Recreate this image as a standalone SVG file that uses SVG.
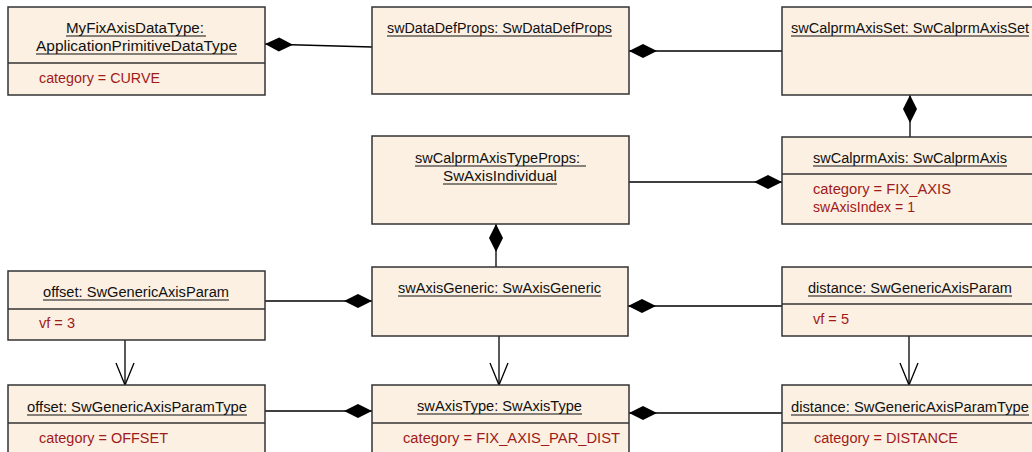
<svg xmlns="http://www.w3.org/2000/svg" width="1032" height="452" viewBox="0 0 1032 452">
<style>
.box{fill:#FBF0E2;stroke:#333;stroke-width:1.5}
.div{stroke:#333;stroke-width:1.5}
.t{font-family:"Liberation Sans",Arial,sans-serif;font-size:14px;fill:#111}
.a{font-family:"Liberation Sans",Arial,sans-serif;font-size:14px;fill:#A01A1A}
.ul{stroke:#111;stroke-width:1}
.c{fill:none;stroke:#000;stroke-width:1.3}
.comp{marker-start:url(#dia)}
.nav{marker-end:url(#open)}
</style>
<defs>
<marker id="dia" markerUnits="userSpaceOnUse" markerWidth="30" markerHeight="16" refX="0" refY="7" orient="auto" viewBox="0 0 30 16" overflow="visible">
<path d="M0,7 L14,0 L28,7 L14,14 Z" fill="#000"/>
</marker>
<marker id="open" markerUnits="userSpaceOnUse" markerWidth="24" markerHeight="20" refX="22" refY="9" orient="auto" viewBox="0 0 24 20" overflow="visible">
<path d="M0,0 L22,9 L0,18" fill="none" stroke="#000" stroke-width="1.3"/>
</marker>
</defs>
<g id="connectors">
<path class="c comp" d="M265,44 L372,47"/>
<path class="c comp" d="M629,51 L782,51"/>
<path class="c comp" d="M910,95 L910,137"/>
<path class="c comp" d="M782,182 L629,182"/>
<path class="c comp" d="M496,224 L496,267"/>
<path class="c comp" d="M372,301 L265,301"/>
<path class="c comp" d="M628,306 L782,306"/>
<path class="c nav" d="M499,336 L499,385"/>
<path class="c nav" d="M125,340 L125,385"/>
<path class="c nav" d="M909,336 L909,385"/>
<path class="c comp" d="M372,411 L265,411"/>
<path class="c comp" d="M629,413 L782,413"/>
</g>
<g id="n1">
<rect class="box" x="8" y="7" width="257" height="88"/>
<line class="div" x1="8" y1="63" x2="265" y2="63"/>
<text class="t" x="66" y="33" textLength="138" lengthAdjust="spacingAndGlyphs">MyFixAxisDataType:</text>
<line class="ul" x1="66" y1="36" x2="206" y2="36"/>
<text class="t" x="36" y="51" textLength="201" lengthAdjust="spacingAndGlyphs">ApplicationPrimitiveDataType</text>
<line class="ul" x1="36" y1="54" x2="237" y2="54"/>
<text class="a" x="39" y="83" textLength="121" lengthAdjust="spacingAndGlyphs">category = CURVE</text>
</g>
<g id="n2">
<rect class="box" x="372" y="7" width="257" height="87"/>
<text class="t" x="387" y="33" textLength="225" lengthAdjust="spacingAndGlyphs">swDataDefProps: SwDataDefProps</text>
<line class="ul" x1="387" y1="36" x2="612" y2="36"/>
</g>
<g id="n3">
<rect class="box" x="782" y="7" width="262" height="88"/>
<text class="t" x="791" y="33" textLength="238" lengthAdjust="spacingAndGlyphs">swCalprmAxisSet: SwCalprmAxisSet</text>
<line class="ul" x1="791" y1="36" x2="1029" y2="36"/>
</g>
<g id="n4">
<rect class="box" x="782" y="137" width="262" height="87"/>
<line class="div" x1="782" y1="174" x2="1044" y2="174"/>
<text class="t" x="813" y="163" textLength="194" lengthAdjust="spacingAndGlyphs">swCalprmAxis: SwCalprmAxis</text>
<line class="ul" x1="813" y1="166" x2="1007" y2="166"/>
<text class="a" x="813" y="194" textLength="138" lengthAdjust="spacingAndGlyphs">category = FIX_AXIS</text>
<text class="a" x="813" y="212" textLength="102" lengthAdjust="spacingAndGlyphs">swAxisIndex = 1</text>
</g>
<g id="n5">
<rect class="box" x="372" y="136" width="257" height="88"/>
<text class="t" x="415" y="163" textLength="165" lengthAdjust="spacingAndGlyphs">swCalprmAxisTypeProps:</text>
<line class="ul" x1="415" y1="166" x2="586" y2="166"/>
<text class="t" x="443" y="181" textLength="114" lengthAdjust="spacingAndGlyphs">SwAxisIndividual</text>
<line class="ul" x1="443" y1="184" x2="557" y2="184"/>
</g>
<g id="n6">
<rect class="box" x="372" y="267" width="256" height="69"/>
<text class="t" x="398" y="293" textLength="203" lengthAdjust="spacingAndGlyphs">swAxisGeneric: SwAxisGeneric</text>
<line class="ul" x1="398" y1="296" x2="601" y2="296"/>
</g>
<g id="n7">
<rect class="box" x="372" y="385" width="257" height="80"/>
<line class="div" x1="372" y1="423" x2="629" y2="423"/>
<text class="t" x="417" y="411" textLength="165" lengthAdjust="spacingAndGlyphs">swAxisType: SwAxisType</text>
<line class="ul" x1="417" y1="414" x2="582" y2="414"/>
<text class="a" x="403" y="443" textLength="217" lengthAdjust="spacingAndGlyphs">category = FIX_AXIS_PAR_DIST</text>
</g>
<g id="n8">
<rect class="box" x="8" y="271" width="257" height="69"/>
<line class="div" x1="8" y1="309" x2="265" y2="309"/>
<text class="t" x="43" y="297" textLength="186" lengthAdjust="spacingAndGlyphs">offset: SwGenericAxisParam</text>
<line class="ul" x1="43" y1="300" x2="229" y2="300"/>
<text class="a" x="39" y="328" textLength="36" lengthAdjust="spacingAndGlyphs">vf = 3</text>
</g>
<g id="n9">
<rect class="box" x="8" y="385" width="257" height="80"/>
<line class="div" x1="8" y1="423" x2="265" y2="423"/>
<text class="t" x="27" y="412" textLength="220" lengthAdjust="spacingAndGlyphs">offset: SwGenericAxisParamType</text>
<line class="ul" x1="27" y1="415" x2="247" y2="415"/>
<text class="a" x="39" y="443" textLength="129" lengthAdjust="spacingAndGlyphs">category = OFFSET</text>
</g>
<g id="n10">
<rect class="box" x="782" y="267" width="262" height="69"/>
<line class="div" x1="782" y1="304" x2="1044" y2="304"/>
<text class="t" x="808" y="293" textLength="204" lengthAdjust="spacingAndGlyphs">distance: SwGenericAxisParam</text>
<line class="ul" x1="808" y1="296" x2="1012" y2="296"/>
<text class="a" x="813" y="324" textLength="36" lengthAdjust="spacingAndGlyphs">vf = 5</text>
</g>
<g id="n11">
<rect class="box" x="782" y="385" width="262" height="80"/>
<line class="div" x1="782" y1="423" x2="1044" y2="423"/>
<text class="t" x="791" y="412" textLength="238" lengthAdjust="spacingAndGlyphs">distance: SwGenericAxisParamType</text>
<line class="ul" x1="791" y1="415" x2="1029" y2="415"/>
<text class="a" x="814" y="443" textLength="144" lengthAdjust="spacingAndGlyphs">category = DISTANCE</text>
</g>
</svg>
